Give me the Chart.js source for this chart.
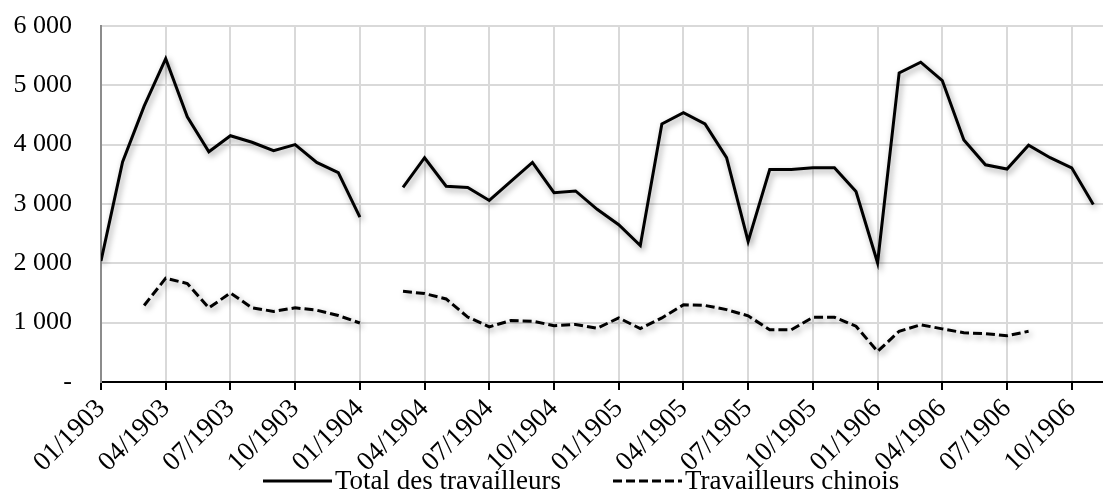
<!DOCTYPE html>
<html lang="fr">
<head>
<meta charset="utf-8">
<title>Travailleurs 1903-1906</title>
<script src="https://cdn.jsdelivr.net/npm/chart.js@4.4.1/dist/chart.umd.min.js"></script>
<style>
  html, body { margin: 0; padding: 0; background: #ffffff; overflow: hidden; }
  #wrap { width: 1103px; height: 492px; position: relative; }
</style>
</head>
<body>
<div id="wrap"><canvas id="chart" width="1103" height="492"></canvas></div>
<script>
// Mois (01/1903 à 11/1906)
const months = [
  '01/1903','02/1903','03/1903','04/1903','05/1903','06/1903','07/1903','08/1903','09/1903','10/1903','11/1903','12/1903',
  '01/1904','02/1904','03/1904','04/1904','05/1904','06/1904','07/1904','08/1904','09/1904','10/1904','11/1904','12/1904',
  '01/1905','02/1905','03/1905','04/1905','05/1905','06/1905','07/1905','08/1905','09/1905','10/1905','11/1905','12/1905',
  '01/1906','02/1906','03/1906','04/1906','05/1906','06/1906','07/1906','08/1906','09/1906','10/1906','11/1906'
];

// Total des travailleurs (null = mois sans donnée)
const totalWorkers = [
  2040, 3710, 4650, 5450, 4470, 3880, 4150, 4040, 3900, 4000, 3700, 3530,
  2780, null, 3280, 3780, 3300, 3280, 3060, 3380, 3700, 3190, 3220, 2910,
  2650, 2300, 4350, 4540, 4350, 3780, 2370, 3580, 3580, 3610, 3610, 3210,
  2010, 5210, 5390, 5080, 4080, 3660, 3590, 3990, 3780, 3610, 2990
];

// Travailleurs chinois
const chineseWorkers = [
  null, null, 1290, 1750, 1660, 1250, 1500, 1250, 1190, 1250, 1210, 1120,
  995, null, 1530, 1490, 1400, 1095, 930, 1035, 1025, 950, 970, 905,
  1080, 900, 1080, 1300, 1290, 1220, 1115, 880, 880, 1090, 1090, 940,
  515, 855, 965, 895, 830, 815, 780, 855, null, null, null
];

// Graduations de l'axe vertical
const yTicks = [0, 1000, 2000, 3000, 4000, 5000, 6000];

const seriesNames = ['Total des travailleurs', 'Travailleurs chinois'];

const FONT = "'Liberation Serif', 'Times New Roman', serif";

function fmtThousands(v) {
  if (v === 0) return '-';
  return String(v).replace(/\B(?=(\d{3})+(?!\d))/g, ' ');
}

// Ombre portée sous les courbes
const lineShadow = {
  id: 'lineShadow',
  beforeDatasetDraw(chart) {
    const ctx = chart.ctx;
    ctx.save();
    ctx.shadowColor = 'rgba(0,0,0,0.4)';
    ctx.shadowBlur = 6;
    ctx.shadowOffsetX = 2;
    ctx.shadowOffsetY = 3;
  },
  afterDatasetDraw(chart) {
    chart.ctx.restore();
  }
};

// Légende en bas, dessinée à partir des styles des séries
const bottomLegend = {
  id: 'bottomLegend',
  afterDraw(chart) {
    const ctx = chart.ctx;
    const items = [
      { ds: chart.data.datasets[0], x: 263 },
      { ds: chart.data.datasets[1], x: 613 }
    ];
    const y = 481;
    ctx.save();
    items.forEach(it => {
      ctx.beginPath();
      ctx.setLineDash(it.ds.borderDash || []);
      ctx.lineWidth = it.ds.borderWidth;
      ctx.strokeStyle = it.ds.borderColor;
      ctx.moveTo(it.x, y);
      ctx.lineTo(it.x + 69, y);
      ctx.stroke();
      ctx.setLineDash([]);
      ctx.fillStyle = '#000000';
      ctx.font = '27px ' + FONT;
      ctx.textBaseline = 'alphabetic';
      ctx.textAlign = 'left';
      ctx.fillText(it.ds.label, it.x + 72, y + 8);
    });
    ctx.restore();
  }
};

const toPoints = arr => arr.map((v, i) => ({ x: i, y: v }));

new Chart(document.getElementById('chart'), {
  type: 'line',
  data: {
    datasets: [
      {
        label: seriesNames[0],
        data: toPoints(totalWorkers),
        borderColor: '#000000',
        borderWidth: 3,
        pointRadius: 0,
        tension: 0,
        spanGaps: false,
        fill: false
      },
      {
        label: seriesNames[1],
        data: toPoints(chineseWorkers),
        borderColor: '#000000',
        borderWidth: 3,
        borderDash: [9, 4],
        pointRadius: 0,
        tension: 0,
        spanGaps: false,
        fill: false
      }
    ]
  },
  options: {
    responsive: false,
    animation: false,
    devicePixelRatio: 1,
    layout: { padding: { top: 26, right: 0, left: 0, bottom: 0 } },
    plugins: {
      legend: { display: false },
      tooltip: { enabled: false }
    },
    scales: {
      x: {
        type: 'linear',
        min: 0,
        max: 46.45,
        afterFit(scale) { scale.height = 110; },
        afterBuildTicks(scale) {
          scale.ticks = months.map((m, i) => ({ value: i })).filter(t => t.value % 3 === 0);
        },
        ticks: {
          autoSkip: false,
          maxRotation: 45,
          minRotation: 45,
          padding: 3,
          color: '#000000',
          font: { family: FONT, size: 27 },
          callback: (v) => months[v] || ''
        },
        grid: {
          color: '#d9d9d9',
          lineWidth: 2,
          drawTicks: true,
          tickLength: 8,
          tickColor: '#000000',
          tickWidth: 2
        },
        border: { display: true, color: '#000000', width: 2 }
      },
      y: {
        min: 0,
        max: 6000,
        afterFit(scale) {
          scale.width = 101;
          scale.paddingTop = 14;
          scale.paddingBottom = 0;
        },
        afterBuildTicks(scale) {
          scale.ticks = yTicks.map(v => ({ value: v }));
        },
        ticks: {
          padding: 29,
          color: '#000000',
          font: { family: FONT, size: 26 },
          callback: (v) => fmtThousands(v)
        },
        grid: {
          color: '#d9d9d9',
          lineWidth: 2,
          drawTicks: false
        },
        border: { display: true, color: '#8c8c8c', width: 2 }
      }
    }
  },
  plugins: [lineShadow, bottomLegend]
});
</script>
</body>
</html>
